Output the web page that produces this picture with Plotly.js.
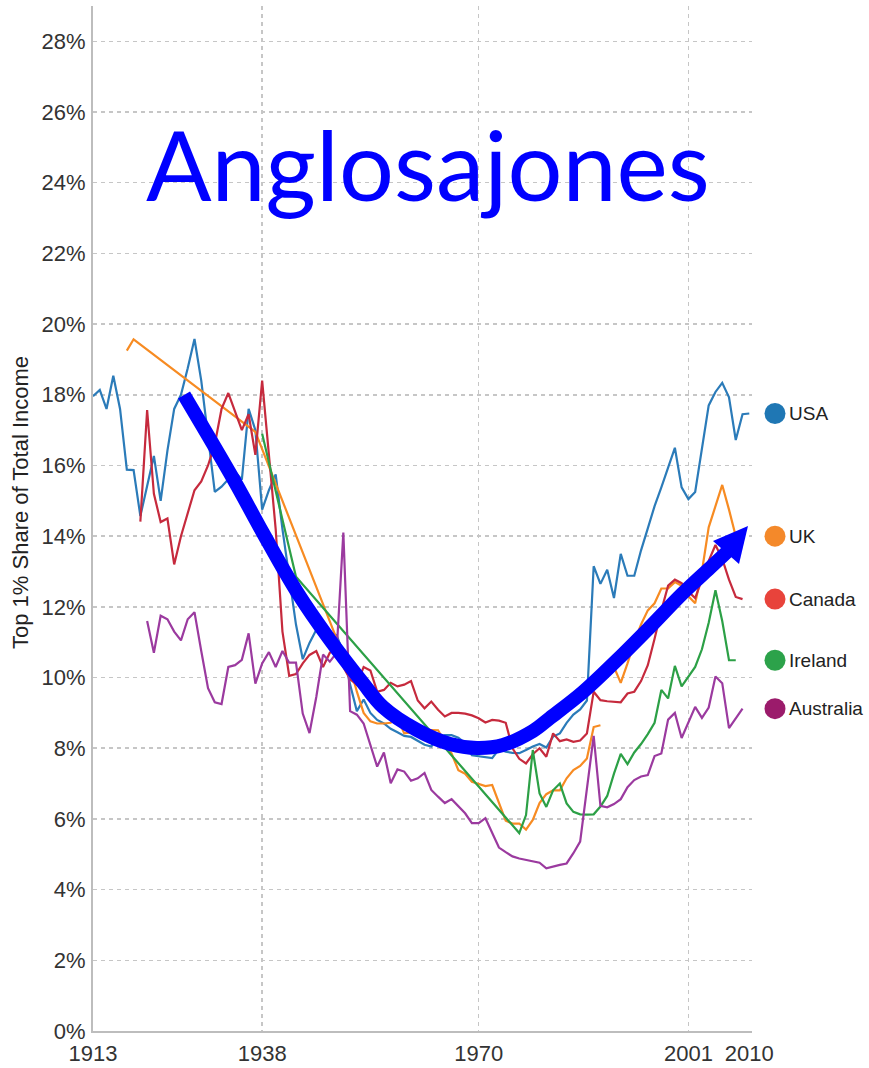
<!DOCTYPE html>
<html>
<head>
<meta charset="utf-8">
<script src="https://cdn.plot.ly/plotly-3.0.1.min.js"></script>
<style>
  html, body { margin: 0; padding: 0; background: #fff; }
  #chart { width: 869px; height: 1068px; }
</style>
</head>
<body>
<div id="chart"></div>
<script>
// consecutive years helper (x categories only)
function span(a, b) { const out = []; for (let y = a; y <= b; y++) out.push(y); return out; }

const xTickVals = [1913, 1938, 1970, 2001, 2010];
const xGridVals = [1938, 1970, 2001];
const yTickVals = [0, 2, 4, 6, 8, 10, 12, 14, 16, 18, 20, 22, 24, 26, 28];

const seriesNames = ['USA', 'UK', 'Canada', 'Ireland', 'Australia'];
const yTitle = 'Top 1% Share of Total Income';
const bigTitle = 'Anglosajones';

const usaYears = span(1913, 2010);
const usaShare = [
  17.96, 18.14, 17.6, 18.54, 17.6, 15.88, 15.87, 14.57, 15.42, 16.27,
  15.0, 16.42, 17.6, 18.0, 18.75, 19.58, 18.4, 16.8, 15.25, 15.4,
  15.62, 15.82, 15.6, 17.6, 17.0, 14.75, 15.3, 15.75, 14.2, 12.8,
  11.5, 10.52, 10.98, 11.35, 11.3, 11.26, 11.2, 10.7, 9.8, 9.05,
  9.38, 9.0, 8.8, 8.7, 8.55, 8.45, 8.35, 8.32, 8.2, 8.1,
  8.05, 8.3, 8.37, 8.37, 8.3, 8.14, 7.8, 7.77, 7.75, 7.72,
  7.97, 7.9, 7.87, 7.86, 7.95, 8.05, 8.12, 8.02, 8.33, 8.42,
  8.72, 8.95, 9.1, 9.35, 13.15, 12.65, 13.05, 12.25, 13.5, 12.88,
  12.88, 13.6, 14.22, 14.85, 15.38, 15.92, 16.5, 15.38, 15.05, 15.25,
  16.5, 17.7, 18.08, 18.34, 17.93, 16.72, 17.45, 17.47
];

// UK: gaps 1920-36 and 1938-48 are joined in the source, 1989 is a break
const ukYears = [1918, 1919, 1937].concat(span(1949, 2008));
const ukShare = [
  19.25, 19.57, 16.95,
  11.1, 10.7, 10.3, 9.6, 9.0, 8.76, 8.7, 8.7, 8.72, 8.85,
  8.42, 8.45, 8.5, 8.52, 8.52, 8.51, 8.19, 7.85, 7.38, 7.28,
  7.05, 6.98, 6.93, 6.96, 6.45, 5.95, 5.87, 5.87, 5.7, 5.97,
  6.45, 6.7, 6.81, 6.81, 7.15, 7.38, 7.5, 7.71, 8.6, 8.65,
  null,
  10.3, 9.85, 10.4, 11.0, 11.5, 11.9, 12.1, 12.52, 12.52, 12.7,
  12.6, 12.3, 12.1, 13.0, 14.25, 14.85, 15.45, 14.75, 14.0
];

const canadaYears = span(1920, 2009);
const canadaShare = [
  14.41, 17.57, 15.2, 14.4, 14.5, 13.2, 14.0, 14.65, 15.3, 15.55,
  16.0, 16.6, 17.6, 18.05, 17.55, 17.0, 17.45, 16.3, 18.4, 16.4,
  14.2, 11.3, 10.05, 10.1, 10.4, 10.64, 10.75, 10.3, 10.7, 10.85,
  10.3, 9.95, 9.8, 10.3, 10.2, 9.6, 9.65, 9.85, 9.75, 9.8,
  9.9, 9.35, 9.13, 9.32, 9.09, 8.9, 9.0, 9.0, 8.98, 8.93,
  8.85, 8.73, 8.8, 8.78, 8.72, 8.0, 7.7, 7.57, 7.83, 8.0,
  7.76, 8.42, 8.2, 8.25, 8.18, 8.22, 8.42, 9.6, 9.36, 9.33,
  9.31, 9.3, 9.55, 9.6, 9.9, 10.35, 11.1, 11.9, 12.6, 12.77,
  12.67, 12.43, 12.25, 12.8, 13.3, 13.75, 13.36, 12.77, 12.28, 12.22
];

const irelandYears = [1938, 1943].concat(span(1976, 2008));
const irelandShare = [
  16.9, 12.85,
  5.6, 6.11, 7.95, 6.72, 6.34, 6.81, 7.0, 6.44, 6.2, 6.13,
  6.12, 6.13, 6.35, 6.65, 7.28, 7.84, 7.55, 7.88, 8.12, 8.4,
  8.72, 9.65, 9.41, 10.33, 9.75, 10.02, 10.3, 10.8, 11.55, 12.47,
  11.6, 10.49, 10.49
];

const australiaYears = span(1921, 2009);
const australiaShare = [
  11.6, 10.7, 11.75, 11.65, 11.3, 11.05, 11.65, 11.85, 10.75, 9.7,
  9.3, 9.25, 10.3, 10.35, 10.5, 11.25, 9.83, 10.4, 10.72, 10.3,
  10.75, 10.42, 10.42, 8.98, 8.43, 9.45, 10.65, 10.45, 10.7, 14.1,
  9.05, 8.95, 8.7, 8.07, 7.48, 7.88, 7.01, 7.4, 7.34, 7.08,
  7.15, 7.3, 6.82, 6.63, 6.45, 6.56, 6.35, 6.16, 5.88, 5.88,
  6.02, 5.6, 5.19, 5.06, 4.94, 4.88, 4.84, 4.8, 4.76, 4.6,
  4.66, 4.7, 4.74, 5.03, 5.36, 6.8, 8.35, 6.37, 6.33, 6.42,
  6.56, 6.9, 7.1, 7.2, 7.24, 7.78, 7.85, 8.81, 9.0, 8.29,
  8.72, 9.17, 8.86, 9.15, 10.03, 9.84, 8.57, 8.86, 9.12
];

const lineColors = ['#2b7bb9', '#f78b22', '#c62a3d', '#2ca046', '#9b3a9f'];
const dotColors = ['#1f77b4', '#f4892a', '#e8433b', '#2ca24a', '#9b1b6b'];
const FONT = 'Liberation Sans, Arial, sans-serif';

// page geometry
const W = 869, H = 1068;
const M = { l: 93, r: 117, t: 6, b: 37 };
const X0 = 1913, X1 = 2010.4, Y0 = 0, Y1 = 29;
const plotW = W - M.l - M.r, plotH = H - M.t - M.b;
const xOf = px => X0 + (px - M.l) / plotW * (X1 - X0);
const yOf = py => Y0 + (H - M.b - py) / plotH * (Y1 - Y0);
const paperX = px => (px - M.l) / plotW;

// hand-drawn blue arrow, traced in page pixels
const arrowPath = [
  [184, 395], [235, 482], [263, 533], [297, 592], [330, 640], [363, 683],
  [383, 707], [417, 730], [450, 744], [477, 748], [503, 745], [533, 731],
  [550, 718], [583, 692], [617, 660], [650, 627], [683, 593], [712, 566], [728, 551]
];
const arrowHead = [[748, 526], [713, 541], [739, 564]];
const dotPx = 775, labelPx = 787, dotR = 10.5;

const allYears = [usaYears, ukYears, canadaYears, irelandYears, australiaYears];
const allShares = [usaShare, ukShare, canadaShare, irelandShare, australiaShare];
const lastShare = allShares.map(s => s.filter(v => v !== null).slice(-1)[0]);

const traces = seriesNames.map((name, i) => ({
  x: allYears[i], y: allShares[i], name: name,
  type: 'scatter', mode: 'lines',
  line: { color: lineColors[i], width: 2.2 },
  connectgaps: false, hoverinfo: 'skip'
}));

traces.push({
  x: arrowPath.map(p => xOf(p[0])), y: arrowPath.map(p => yOf(p[1])),
  type: 'scatter', mode: 'lines',
  line: { color: '#0000ff', width: 14, shape: 'spline', smoothing: 1 },
  hoverinfo: 'skip'
});

const headPath = arrowHead.map((p, i) => (i ? 'L' : 'M') + xOf(p[0]) + ',' + yOf(p[1])).join(' ') + ' Z';

// end-of-line labels: dot + name at each series' last value
const shapes = [{
  type: 'path', xref: 'x', yref: 'y', path: headPath,
  fillcolor: '#0000ff', line: { width: 0 }, layer: 'above'
}];
const annotations = [];
seriesNames.forEach((name, i) => {
  shapes.push({
    type: 'circle', xref: 'paper', yref: 'y',
    xsizemode: 'pixel', ysizemode: 'pixel',
    xanchor: paperX(dotPx), yanchor: lastShare[i],
    x0: -dotR, x1: dotR, y0: -dotR, y1: dotR,
    fillcolor: dotColors[i], line: { width: 0 }
  });
  annotations.push({
    text: name, xref: 'paper', yref: 'y',
    x: paperX(labelPx), y: lastShare[i],
    xanchor: 'left', yanchor: 'middle', showarrow: false,
    font: { family: FONT, size: 19, color: '#222' }
  });
});

annotations.push({
  text: yTitle, xref: 'paper', yref: 'paper',
  x: paperX(20), y: (H - M.b - 503) / plotH,
  xanchor: 'center', yanchor: 'middle', textangle: -90, showarrow: false,
  font: { family: FONT, size: 22, color: '#222' }
});

annotations.push({
  text: bigTitle, xref: 'paper', yref: 'paper',
  x: paperX(428), y: (H - M.b - 163) / plotH,
  xanchor: 'center', yanchor: 'middle', showarrow: false,
  font: { family: 'Lato, sans-serif', size: 97, color: '#0000ff' }
});

const gridStyle = { gridcolor: '#c6c6c6', gridwidth: 1.5, griddash: '4px,4px' };

const layout = {
  width: W, height: H,
  margin: M,
  paper_bgcolor: '#fff', plot_bgcolor: '#fff',
  showlegend: false,
  font: { family: FONT, color: '#333' },
  xaxis: {
    range: [X0, X1], tickvals: xTickVals, ticktext: xTickVals.map(String),
    showgrid: false, zeroline: false,
    showline: true, linecolor: '#bdbdbd', linewidth: 2,
    ticks: '', tickfont: { size: 22, color: '#333' }, ticklabelstandoff: 2,
    minor: Object.assign({ tickvals: xGridVals, showgrid: true, ticks: '' }, gridStyle)
  },
  yaxis: Object.assign({
    range: [Y0, Y1], tickvals: yTickVals, ticktext: yTickVals.map(v => v + '%'),
    showgrid: true, zeroline: false,
    showline: true, linecolor: '#bdbdbd', linewidth: 2,
    ticks: '', tickfont: { size: 22, color: '#333' }, ticklabelstandoff: 1
  }, gridStyle),
  shapes: shapes,
  annotations: annotations
};

Plotly.newPlot('chart', traces, layout, { displayModeBar: false, staticPlot: true });
</script>
</body>
</html>
